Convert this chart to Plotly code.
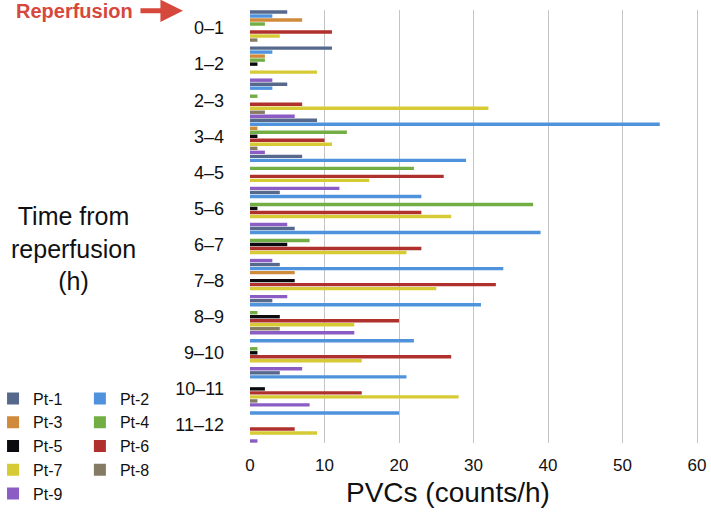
import plotly.graph_objects as go

# hours after reperfusion (categories, top to bottom)
hours = ["0–1", "1–2", "2–3", "3–4", "4–5", "5–6",
         "6–7", "7–8", "8–9", "9–10", "10–11", "11–12"]

# PVC counts per hour for each patient
pt1 = [5, 11, 5, 9, 7, 4, 6, 4, 3, 0, 4, 0]
pt2 = [3, 3, 3, 55, 29, 23, 39, 34, 31, 22, 21, 20]
pt3 = [7, 2, 0, 1, 0, 0, 0, 6, 0, 0, 0, 0]
pt4 = [2, 2, 1, 13, 22, 38, 8, 0, 1, 1, 0, 0]
pt5 = [0, 1, 0, 1, 0, 1, 5, 6, 4, 1, 2, 0]
pt6 = [11, 0, 7, 10, 26, 23, 23, 33, 20, 27, 15, 6]
pt7 = [4, 9, 32, 11, 16, 27, 21, 25, 14, 15, 28, 9]
pt8 = [1, 0, 2, 1, 0, 0, 0, 0, 4, 0, 1, 0]
pt9 = [0, 3, 6, 2, 12, 5, 3, 5, 14, 7, 8, 1]

names = ["Pt-1", "Pt-2", "Pt-3", "Pt-4", "Pt-5", "Pt-6", "Pt-7", "Pt-8", "Pt-9"]
series = [pt1, pt2, pt3, pt4, pt5, pt6, pt7, pt8, pt9]
colours = ["#56688c", "#4e93dc", "#d08a3c", "#72ae44", "#0b0b0f",
           "#b0302d", "#d6cb35", "#857b64", "#8a5cc4"]

FONT = "Liberation Sans, Arial, sans-serif"
RED = "#d6483c"

fig = go.Figure()
for i, (name, vals, col) in enumerate(zip(names, series, colours)):
    # odd patients in the left legend column, even ones in the right
    fig.add_trace(go.Bar(
        y=hours, x=vals, name=name, orientation="h",
        marker=dict(color=col, line=dict(width=0)),
        legend="legend" if i % 2 == 0 else "legend2",
    ))

legend_style = dict(
    font=dict(family=FONT, size=16, color="#111"),
    bgcolor="rgba(0,0,0,0)", traceorder="normal",
    xanchor="left", yanchor="top", y=0.142,
    itemsizing="constant", tracegroupgap=0,
)

fig.update_layout(
    width=711, height=512,
    margin=dict(l=250, r=11, t=10, b=69, autoexpand=False),
    paper_bgcolor="white", plot_bgcolor="white",
    barmode="group", bargap=0.0, bargroupgap=0.15,
    font=dict(family=FONT, color="#111"),
    legend=dict(x=-0.571, **legend_style),
    legend2=dict(x=-0.378, **legend_style),
    xaxis=dict(
        range=[0, 60.4], dtick=10, showgrid=True, gridcolor="#c4c4c4", gridwidth=1.3,
        zeroline=True, zerolinecolor="white", showline=False,
        tickfont=dict(size=17, family=FONT, color="#111"), ticklabelstandoff=10,
    ),
    yaxis=dict(
        autorange="reversed", showgrid=False, zeroline=False, showline=False,
        tickfont=dict(size=18, family=FONT, color="#111"), ticklabelstandoff=25,
    ),
)

# axis titles placed as in the original figure
fig.add_annotation(text="PVCs (counts/h)", xref="paper", yref="paper",
                   x=0.441, y=-0.115, xanchor="center", yanchor="middle",
                   showarrow=False, font=dict(size=28, family=FONT, color="#111"))
fig.add_annotation(text="Time from<br>reperfusion<br>(h)", xref="paper", yref="paper",
                   x=-0.393, y=0.45, xanchor="center", yanchor="middle",
                   showarrow=False, align="center",
                   font=dict(size=25, family=FONT, color="#111"))

# "Reperfusion" marker with arrow at top left
fig.add_annotation(text="<b>Reperfusion</b>", xref="paper", yref="paper",
                   x=-0.389, y=0.998, xanchor="center", yanchor="middle",
                   showarrow=False, font=dict(size=20, family=FONT, color=RED))
fig.add_annotation(text="", xref="paper", yref="paper", x=-0.149, y=0.998,
                   showarrow=True, ax=-44, ay=0, arrowhead=2, arrowsize=0.9,
                   arrowwidth=5, arrowcolor=RED)

# drop the default page margin so the figure sits at the window's corner
fig.write_html("out.html", config={"displayModeBar": False},
               post_script="document.body.style.margin='0';")
